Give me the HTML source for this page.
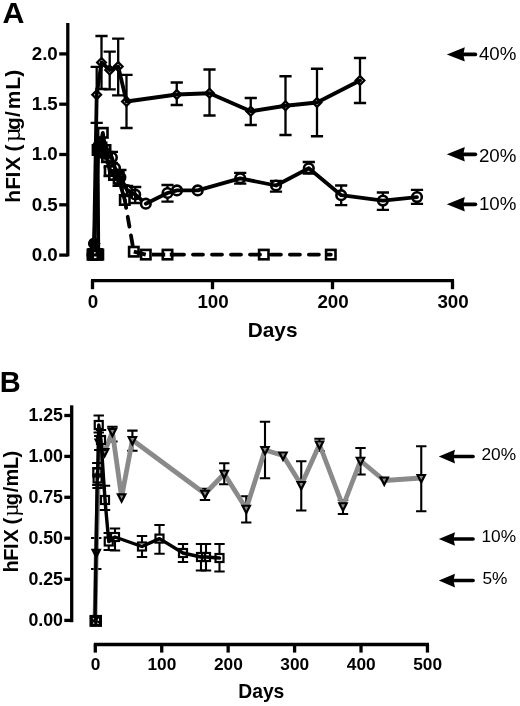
<!DOCTYPE html>
<html><head><meta charset="utf-8"><title>hFIX expression</title>
<style>
html,body{margin:0;padding:0;background:#fff;}
svg{display:block;font-family:"Liberation Sans",sans-serif;fill:#000;}
</style></head><body>
<svg width="520" height="706" viewBox="0 0 520 706">
<rect width="520" height="706" fill="#fff"/>
<line x1="67.8" y1="23" x2="67.8" y2="256.4" stroke="#000" stroke-width="3.3" />
<line x1="59.2" y1="53.900000000000006" x2="67.8" y2="53.900000000000006" stroke="#000" stroke-width="3.3" />
<text x="57.8" y="59.7" font-size="18.8" text-anchor="end" font-weight="bold" >2.0</text>
<line x1="59.2" y1="104.2" x2="67.8" y2="104.2" stroke="#000" stroke-width="3.3" />
<text x="57.8" y="110.0" font-size="18.8" text-anchor="end" font-weight="bold" >1.5</text>
<line x1="59.2" y1="154.5" x2="67.8" y2="154.5" stroke="#000" stroke-width="3.3" />
<text x="57.8" y="160.3" font-size="18.8" text-anchor="end" font-weight="bold" >1.0</text>
<line x1="59.2" y1="204.79999999999998" x2="67.8" y2="204.79999999999998" stroke="#000" stroke-width="3.3" />
<text x="57.8" y="210.6" font-size="18.8" text-anchor="end" font-weight="bold" >0.5</text>
<line x1="59.2" y1="255.1" x2="67.8" y2="255.1" stroke="#000" stroke-width="3.3" />
<text x="57.8" y="260.9" font-size="18.8" text-anchor="end" font-weight="bold" >0.0</text>
<line x1="91" y1="280.6" x2="454" y2="280.6" stroke="#000" stroke-width="3.3" />
<line x1="92.5" y1="280.6" x2="92.5" y2="289.2" stroke="#000" stroke-width="3.3" />
<text x="93.1" y="308.2" font-size="18.8" text-anchor="middle" font-weight="bold" >0</text>
<line x1="212.5" y1="280.6" x2="212.5" y2="289.2" stroke="#000" stroke-width="3.3" />
<text x="213.1" y="308.2" font-size="18.8" text-anchor="middle" font-weight="bold" >100</text>
<line x1="332.5" y1="280.6" x2="332.5" y2="289.2" stroke="#000" stroke-width="3.3" />
<text x="333.1" y="308.2" font-size="18.8" text-anchor="middle" font-weight="bold" >200</text>
<line x1="452.5" y1="280.6" x2="452.5" y2="289.2" stroke="#000" stroke-width="3.3" />
<text x="453.1" y="308.2" font-size="18.8" text-anchor="middle" font-weight="bold" >300</text>
<text x="272.6" y="337.4" font-size="20.8" text-anchor="middle" font-weight="bold" >Days</text>
<text x="2.5" y="23.4" font-size="30.4" text-anchor="start" font-weight="bold" >A</text>
<text transform="translate(19.6,0) rotate(-90)" x="-202.69 -189.73 -177.39 -170.81 -156.80 -151.56 -142.23 -130.04 -117.00 -109.26 -89.73 -76.63" y="0" font-size="21" font-weight="bold" text-anchor="start">hFIX (<tspan font-weight="normal" font-size="26.2" font-family="'Liberation Serif','DejaVu Serif',serif">µ</tspan>g/mL)</text>
<path d="M100.9 151.8H113.1M100.9 162H113.1M107 151.8V162" stroke="#000" stroke-width="2.3" fill="none"/>
<path d="M103.60000000000001 167.4H115.8M103.60000000000001 176H115.8M109.7 167.4V176" stroke="#000" stroke-width="2.3" fill="none"/>
<path d="M112.5 172H124.69999999999999M112.5 185.8H124.69999999999999M118.6 172V185.8" stroke="#000" stroke-width="2.3" fill="none"/>
<rect x="87.80" y="249.90" width="9.4" height="9.4" fill="#fff" stroke="none"/>
<rect x="93.60" y="249.90" width="9.4" height="9.4" fill="#fff" stroke="none"/>
<rect x="92.90" y="145.30" width="9.4" height="9.4" fill="#fff" stroke="none"/>
<rect x="95.30" y="142.30" width="9.4" height="9.4" fill="#fff" stroke="none"/>
<rect x="98.10" y="128.10" width="9.4" height="9.4" fill="#fff" stroke="none"/>
<rect x="100.80" y="145.30" width="9.4" height="9.4" fill="#fff" stroke="none"/>
<rect x="102.30" y="152.30" width="9.4" height="9.4" fill="#fff" stroke="none"/>
<rect x="105.00" y="166.30" width="9.4" height="9.4" fill="#fff" stroke="none"/>
<rect x="109.30" y="170.30" width="9.4" height="9.4" fill="#fff" stroke="none"/>
<rect x="113.90" y="174.00" width="9.4" height="9.4" fill="#fff" stroke="none"/>
<polyline points="92.5,254.6 98.3,254.6 97.6,150 100,147 102.8,132.8 105.5,150 107,157 109.7,171 114,175 118.6,178.7 124.8,200" fill="none" stroke="#000" stroke-width="3.8" stroke-linejoin="round" stroke-linecap="round"/>
<rect x="87.80" y="249.90" width="9.4" height="9.4" fill="none" stroke="#000" stroke-width="2.6"/>
<rect x="93.60" y="249.90" width="9.4" height="9.4" fill="none" stroke="#000" stroke-width="2.6"/>
<rect x="92.90" y="145.30" width="9.4" height="9.4" fill="none" stroke="#000" stroke-width="2.6"/>
<rect x="95.30" y="142.30" width="9.4" height="9.4" fill="none" stroke="#000" stroke-width="2.6"/>
<rect x="98.10" y="128.10" width="9.4" height="9.4" fill="none" stroke="#000" stroke-width="2.6"/>
<rect x="100.80" y="145.30" width="9.4" height="9.4" fill="none" stroke="#000" stroke-width="2.6"/>
<rect x="102.30" y="152.30" width="9.4" height="9.4" fill="none" stroke="#000" stroke-width="2.6"/>
<rect x="105.00" y="166.30" width="9.4" height="9.4" fill="none" stroke="#000" stroke-width="2.6"/>
<rect x="109.30" y="170.30" width="9.4" height="9.4" fill="none" stroke="#000" stroke-width="2.6"/>
<rect x="113.90" y="174.00" width="9.4" height="9.4" fill="none" stroke="#000" stroke-width="2.6"/>
<rect x="129.10" y="247.00" width="9.4" height="9.4" fill="#fff" stroke="none"/>
<rect x="141.10" y="249.90" width="9.4" height="9.4" fill="#fff" stroke="none"/>
<rect x="162.80" y="249.90" width="9.4" height="9.4" fill="#fff" stroke="none"/>
<rect x="259.10" y="249.90" width="9.4" height="9.4" fill="#fff" stroke="none"/>
<rect x="326.10" y="249.90" width="9.4" height="9.4" fill="#fff" stroke="none"/>
<line x1="124.8" y1="200" x2="133.8" y2="251.7" stroke="#000" stroke-width="3.8" stroke-linecap="round" stroke-dasharray="10 9" stroke-dashoffset="2"/>
<line x1="133.8" y1="251.7" x2="145.8" y2="254.6" stroke="#000" stroke-width="3.8" />
<line x1="152" y1="254.6" x2="165.2" y2="254.6" stroke="#000" stroke-width="3.8" />
<line x1="169.8" y1="254.6" x2="174" y2="254.6" stroke="#000" stroke-width="3.8" />
<line x1="167.5" y1="254.6" x2="263.8" y2="254.6" stroke="#000" stroke-width="3.8" stroke-linecap="round" stroke-dasharray="10 9" stroke-dashoffset="12.5"/>
<line x1="263.8" y1="254.6" x2="330.8" y2="254.6" stroke="#000" stroke-width="3.8" stroke-linecap="round" stroke-dasharray="10 9" stroke-dashoffset="11.9"/>
<rect x="120.10" y="195.30" width="9.4" height="9.4" fill="none" stroke="#000" stroke-width="2.6"/>
<rect x="129.10" y="247.00" width="9.4" height="9.4" fill="none" stroke="#000" stroke-width="2.6"/>
<rect x="141.10" y="249.90" width="9.4" height="9.4" fill="none" stroke="#000" stroke-width="2.6"/>
<rect x="162.80" y="249.90" width="9.4" height="9.4" fill="none" stroke="#000" stroke-width="2.6"/>
<rect x="259.10" y="249.90" width="9.4" height="9.4" fill="none" stroke="#000" stroke-width="2.6"/>
<rect x="326.10" y="249.90" width="9.4" height="9.4" fill="none" stroke="#000" stroke-width="2.6"/>
<path d="M105.80000000000001 151.8H118.0M105.80000000000001 163H118.0M111.9 151.8V163" stroke="#000" stroke-width="2.3" fill="none"/>
<path d="M114.30000000000001 170H126.5M114.30000000000001 185H126.5M120.4 170V185" stroke="#000" stroke-width="2.3" fill="none"/>
<path d="M120.9 185.8H133.1M120.9 196H133.1M127 185.8V196" stroke="#000" stroke-width="2.3" fill="none"/>
<path d="M129.1 187H141.29999999999998M129.1 203H141.29999999999998M135.2 187V203" stroke="#000" stroke-width="2.3" fill="none"/>
<polyline points="92.5,254.9 94.1,243.5 98.4,146 100.5,143.5 103,150 106,154 111.9,157.5 115,168 120.4,177.3 127,190 135.2,194.5 145.8,203.7" fill="none" stroke="#000" stroke-width="3.8" stroke-linejoin="round" stroke-linecap="round"/>
<circle cx="92.5" cy="254.9" r="4.8" fill="none" stroke="#000" stroke-width="2.6"/>
<circle cx="94.1" cy="243.5" r="4.8" fill="none" stroke="#000" stroke-width="2.6"/>
<circle cx="98.4" cy="146" r="4.8" fill="none" stroke="#000" stroke-width="2.6"/>
<circle cx="100.5" cy="143.5" r="4.8" fill="none" stroke="#000" stroke-width="2.6"/>
<circle cx="103" cy="150" r="4.8" fill="none" stroke="#000" stroke-width="2.6"/>
<circle cx="106" cy="154" r="4.8" fill="none" stroke="#000" stroke-width="2.6"/>
<circle cx="111.9" cy="157.5" r="4.8" fill="none" stroke="#000" stroke-width="2.6"/>
<circle cx="115" cy="168" r="4.8" fill="none" stroke="#000" stroke-width="2.6"/>
<circle cx="120.4" cy="177.3" r="4.8" fill="none" stroke="#000" stroke-width="2.6"/>
<circle cx="127" cy="190" r="4.8" fill="none" stroke="#000" stroke-width="2.6"/>
<circle cx="135.2" cy="194.5" r="4.8" fill="none" stroke="#000" stroke-width="2.6"/>
<path d="M161.4 185H173.6M161.4 201.7H173.6M167.5 185V201.7" stroke="#000" stroke-width="2.3" fill="none"/>
<path d="M234.1 172.9H246.29999999999998M234.1 183.7H246.29999999999998M240.2 172.9V183.7" stroke="#000" stroke-width="2.3" fill="none"/>
<path d="M269.9 181H282.1M269.9 191.7H282.1M276 181V191.7" stroke="#000" stroke-width="2.3" fill="none"/>
<path d="M302.7 162H314.90000000000003M302.7 173.7H314.90000000000003M308.8 162V173.7" stroke="#000" stroke-width="2.3" fill="none"/>
<path d="M335.09999999999997 185.5H347.3M335.09999999999997 205.2H347.3M341.2 185.5V205.2" stroke="#000" stroke-width="2.3" fill="none"/>
<path d="M376.79999999999995 192.5H389.0M376.79999999999995 209.8H389.0M382.9 192.5V209.8" stroke="#000" stroke-width="2.3" fill="none"/>
<path d="M410.9 189.8H423.1M410.9 203.8H423.1M417 189.8V203.8" stroke="#000" stroke-width="2.3" fill="none"/>
<circle cx="145.8" cy="203.7" r="4.8" fill="#fff" stroke="none"/>
<circle cx="167.5" cy="193" r="4.8" fill="#fff" stroke="none"/>
<circle cx="177" cy="190.4" r="4.8" fill="#fff" stroke="none"/>
<circle cx="197.7" cy="190.4" r="4.8" fill="#fff" stroke="none"/>
<circle cx="240.2" cy="178.3" r="4.8" fill="#fff" stroke="none"/>
<circle cx="276" cy="185.5" r="4.8" fill="#fff" stroke="none"/>
<circle cx="308.8" cy="168.3" r="4.8" fill="#fff" stroke="none"/>
<circle cx="341.2" cy="195.2" r="4.8" fill="#fff" stroke="none"/>
<circle cx="382.9" cy="200.6" r="4.8" fill="#fff" stroke="none"/>
<circle cx="417" cy="197.1" r="4.8" fill="#fff" stroke="none"/>
<polyline points="145.8,203.7 167.5,193 177,190.4 197.7,190.4 240.2,178.3 276,185.5 308.8,168.3 341.2,195.2 382.9,200.6 417,197.1" fill="none" stroke="#000" stroke-width="3.8" stroke-linejoin="round" stroke-linecap="round"/>
<circle cx="145.8" cy="203.7" r="4.8" fill="none" stroke="#000" stroke-width="2.6"/>
<circle cx="167.5" cy="193" r="4.8" fill="none" stroke="#000" stroke-width="2.6"/>
<circle cx="177" cy="190.4" r="4.8" fill="none" stroke="#000" stroke-width="2.6"/>
<circle cx="197.7" cy="190.4" r="4.8" fill="none" stroke="#000" stroke-width="2.6"/>
<circle cx="240.2" cy="178.3" r="4.8" fill="none" stroke="#000" stroke-width="2.6"/>
<circle cx="276" cy="185.5" r="4.8" fill="none" stroke="#000" stroke-width="2.6"/>
<circle cx="308.8" cy="168.3" r="4.8" fill="none" stroke="#000" stroke-width="2.6"/>
<circle cx="341.2" cy="195.2" r="4.8" fill="none" stroke="#000" stroke-width="2.6"/>
<circle cx="382.9" cy="200.6" r="4.8" fill="none" stroke="#000" stroke-width="2.6"/>
<circle cx="417" cy="197.1" r="4.8" fill="none" stroke="#000" stroke-width="2.6"/>
<rect x="94.5" y="141.5" width="13" height="17" fill="#000"/>
<path d="M90.60000000000001 66.8H102.8M90.60000000000001 122.8H102.8M96.7 66.8V122.8" stroke="#000" stroke-width="2.3" fill="none"/>
<path d="M95.4 36H107.6M95.4 89H107.6M101.5 36V89" stroke="#000" stroke-width="2.3" fill="none"/>
<path d="M103.60000000000001 51.6H115.8M103.60000000000001 89.4H115.8M109.7 51.6V89.4" stroke="#000" stroke-width="2.3" fill="none"/>
<path d="M112.10000000000001 38.7H124.3M112.10000000000001 95.4H124.3M118.2 38.7V95.4" stroke="#000" stroke-width="2.3" fill="none"/>
<path d="M120.4 74.9H132.6M120.4 128H132.6M126.5 74.9V128" stroke="#000" stroke-width="2.3" fill="none"/>
<path d="M170.65 82.5H182.85M170.65 105H182.85M176.75 82.5V105" stroke="#000" stroke-width="2.3" fill="none"/>
<path d="M203.4 69.5H215.6M203.4 115.5H215.6M209.5 69.5V115.5" stroke="#000" stroke-width="2.3" fill="none"/>
<path d="M244.65 98H256.85M244.65 125H256.85M250.75 98V125" stroke="#000" stroke-width="2.3" fill="none"/>
<path d="M279.4 76.25H291.6M279.4 135H291.6M285.5 76.25V135" stroke="#000" stroke-width="2.3" fill="none"/>
<path d="M310.9 68.75H323.1M310.9 136.25H323.1M317 68.75V136.25" stroke="#000" stroke-width="2.3" fill="none"/>
<path d="M353.9 58H366.1M353.9 103H366.1M360 58V103" stroke="#000" stroke-width="2.3" fill="none"/>
<path d="M92.5 250.5L96.9 254.9L92.5 259.3L88.1 254.9Z" fill="#fff" stroke="none"/>
<path d="M94.1 238.6L98.5 243L94.1 247.4L89.69999999999999 243Z" fill="#fff" stroke="none"/>
<path d="M96.7 90.3L101.10000000000001 94.7L96.7 99.10000000000001L92.3 94.7Z" fill="#fff" stroke="none"/>
<path d="M101.5 58.1L105.9 62.5L101.5 66.9L97.1 62.5Z" fill="#fff" stroke="none"/>
<path d="M109.7 65.6L114.10000000000001 70L109.7 74.4L105.3 70Z" fill="#fff" stroke="none"/>
<path d="M118.2 62.1L122.60000000000001 66.5L118.2 70.9L113.8 66.5Z" fill="#fff" stroke="none"/>
<path d="M126.5 97.1L130.9 101.5L126.5 105.9L122.1 101.5Z" fill="#fff" stroke="none"/>
<path d="M176.75 90.1L181.15 94.5L176.75 98.9L172.35 94.5Z" fill="#fff" stroke="none"/>
<path d="M209.5 88.85L213.9 93.25L209.5 97.65L205.1 93.25Z" fill="#fff" stroke="none"/>
<path d="M250.75 106.85L255.15 111.25L250.75 115.65L246.35 111.25Z" fill="#fff" stroke="none"/>
<path d="M285.5 101.35L289.9 105.75L285.5 110.15L281.1 105.75Z" fill="#fff" stroke="none"/>
<path d="M317 98.1L321.4 102.5L317 106.9L312.6 102.5Z" fill="#fff" stroke="none"/>
<path d="M360 76.1L364.4 80.5L360 84.9L355.6 80.5Z" fill="#fff" stroke="none"/>
<polyline points="92.5,254.9 94.1,243 96.7,94.7 101.5,62.5 109.7,70 118.2,66.5 126.5,101.5 176.75,94.5 209.5,93.25 250.75,111.25 285.5,105.75 317,102.5 360,80.5" fill="none" stroke="#000" stroke-width="3.8" stroke-linejoin="round" stroke-linecap="round"/>
<path d="M92.5 250.5L96.9 254.9L92.5 259.3L88.1 254.9Z" fill="none" stroke="#000" stroke-width="2.2"/>
<path d="M94.1 238.6L98.5 243L94.1 247.4L89.69999999999999 243Z" fill="none" stroke="#000" stroke-width="2.2"/>
<path d="M96.7 90.3L101.10000000000001 94.7L96.7 99.10000000000001L92.3 94.7Z" fill="none" stroke="#000" stroke-width="2.2"/>
<path d="M101.5 58.1L105.9 62.5L101.5 66.9L97.1 62.5Z" fill="none" stroke="#000" stroke-width="2.2"/>
<path d="M109.7 65.6L114.10000000000001 70L109.7 74.4L105.3 70Z" fill="none" stroke="#000" stroke-width="2.2"/>
<path d="M118.2 62.1L122.60000000000001 66.5L118.2 70.9L113.8 66.5Z" fill="none" stroke="#000" stroke-width="2.2"/>
<path d="M126.5 97.1L130.9 101.5L126.5 105.9L122.1 101.5Z" fill="none" stroke="#000" stroke-width="2.2"/>
<path d="M176.75 90.1L181.15 94.5L176.75 98.9L172.35 94.5Z" fill="none" stroke="#000" stroke-width="2.2"/>
<path d="M209.5 88.85L213.9 93.25L209.5 97.65L205.1 93.25Z" fill="none" stroke="#000" stroke-width="2.2"/>
<path d="M250.75 106.85L255.15 111.25L250.75 115.65L246.35 111.25Z" fill="none" stroke="#000" stroke-width="2.2"/>
<path d="M285.5 101.35L289.9 105.75L285.5 110.15L281.1 105.75Z" fill="none" stroke="#000" stroke-width="2.2"/>
<path d="M317 98.1L321.4 102.5L317 106.9L312.6 102.5Z" fill="none" stroke="#000" stroke-width="2.2"/>
<path d="M360 76.1L364.4 80.5L360 84.9L355.6 80.5Z" fill="none" stroke="#000" stroke-width="2.2"/>
<rect x="87.3" y="248" width="16" height="12.8" fill="#000"/>
<path d="M94.1 237.5L100.6 243.5L96 249H91L87.8 243.5Z" fill="#000"/>
<rect x="94" y="252.2" width="1.6" height="1.2" fill="#fff"/><rect x="94" y="256.5" width="2.4" height="1.6" fill="#fff"/>
<path d="M446.8 54.4L464.8 47.199999999999996L463.3 54.4L464.8 61.6Z" fill="#000"/>
<line x1="460.8" y1="54.4" x2="475.3" y2="54.4" stroke="#000" stroke-width="3.8" stroke-linecap="round"/>
<text x="516.3" y="59.5" font-size="18.7" text-anchor="end" font-weight="normal" >40%</text>
<path d="M446.8 154.3L464.8 147.10000000000002L463.3 154.3L464.8 161.5Z" fill="#000"/>
<line x1="460.8" y1="154.3" x2="475.3" y2="154.3" stroke="#000" stroke-width="3.8" stroke-linecap="round"/>
<text x="516.3" y="161.9" font-size="18.7" text-anchor="end" font-weight="normal" >20%</text>
<path d="M446.8 204.3L464.8 197.10000000000002L463.3 204.3L464.8 211.5Z" fill="#000"/>
<line x1="460.8" y1="204.3" x2="475.3" y2="204.3" stroke="#000" stroke-width="3.8" stroke-linecap="round"/>
<text x="516.3" y="209.70000000000002" font-size="18.7" text-anchor="end" font-weight="normal" >10%</text>
<line x1="71.7" y1="405.3" x2="71.7" y2="622.2" stroke="#000" stroke-width="3.3" />
<line x1="64.3" y1="415.5" x2="71.7" y2="415.5" stroke="#000" stroke-width="3.3" />
<text x="63" y="421.3" font-size="17.8" text-anchor="end" font-weight="bold" >1.25</text>
<line x1="64.3" y1="456.4" x2="71.7" y2="456.4" stroke="#000" stroke-width="3.3" />
<text x="63" y="462.2" font-size="17.8" text-anchor="end" font-weight="bold" >1.00</text>
<line x1="64.3" y1="497.3" x2="71.7" y2="497.3" stroke="#000" stroke-width="3.3" />
<text x="63" y="503.1" font-size="17.8" text-anchor="end" font-weight="bold" >0.75</text>
<line x1="64.3" y1="538.2" x2="71.7" y2="538.2" stroke="#000" stroke-width="3.3" />
<text x="63" y="544.0" font-size="17.8" text-anchor="end" font-weight="bold" >0.50</text>
<line x1="64.3" y1="579.3" x2="71.7" y2="579.3" stroke="#000" stroke-width="3.3" />
<text x="63" y="585.0999999999999" font-size="17.8" text-anchor="end" font-weight="bold" >0.25</text>
<line x1="64.3" y1="620.4" x2="71.7" y2="620.4" stroke="#000" stroke-width="3.3" />
<text x="63" y="626.1999999999999" font-size="17.8" text-anchor="end" font-weight="bold" >0.00</text>
<line x1="93.8" y1="644.5" x2="429" y2="644.5" stroke="#000" stroke-width="3.3" />
<line x1="95.3" y1="644.5" x2="95.3" y2="652.6" stroke="#000" stroke-width="3.3" />
<text x="95.5" y="670.0" font-size="17.3" text-anchor="middle" font-weight="bold" >0</text>
<line x1="161.73000000000002" y1="644.5" x2="161.73000000000002" y2="652.6" stroke="#000" stroke-width="3.3" />
<text x="161.93" y="670.0" font-size="17.3" text-anchor="middle" font-weight="bold" >100</text>
<line x1="228.16000000000003" y1="644.5" x2="228.16000000000003" y2="652.6" stroke="#000" stroke-width="3.3" />
<text x="228.36" y="670.0" font-size="17.3" text-anchor="middle" font-weight="bold" >200</text>
<line x1="294.59000000000003" y1="644.5" x2="294.59000000000003" y2="652.6" stroke="#000" stroke-width="3.3" />
<text x="294.79" y="670.0" font-size="17.3" text-anchor="middle" font-weight="bold" >300</text>
<line x1="361.02000000000004" y1="644.5" x2="361.02000000000004" y2="652.6" stroke="#000" stroke-width="3.3" />
<text x="361.22" y="670.0" font-size="17.3" text-anchor="middle" font-weight="bold" >400</text>
<line x1="427.45000000000005" y1="644.5" x2="427.45000000000005" y2="652.6" stroke="#000" stroke-width="3.3" />
<text x="427.65000000000003" y="670.0" font-size="17.3" text-anchor="middle" font-weight="bold" >500</text>
<text x="261.3" y="698" font-size="19.3" text-anchor="middle" font-weight="bold" >Days</text>
<text x="-0.2" y="392" font-size="29" text-anchor="start" font-weight="bold" >B</text>
<text transform="translate(17.5,0) rotate(-90)" x="-572.52 -560.76 -548.92 -542.60 -529.26 -524.40 -516.50 -505.20 -492.30 -486.40 -468.96 -457.50" y="0" font-size="20" font-weight="bold" text-anchor="start">hFIX (<tspan font-weight="normal" font-size="22.4" font-family="'Liberation Serif','DejaVu Serif',serif">µ</tspan>g/mL)</text>
<path d="M91.05 538H101.45M91.05 569H101.45M96.25 538V569" stroke="#000" stroke-width="2.1" fill="none"/>
<path d="M94.1 436H104.5M94.1 450H104.5M99.3 436V450" stroke="#000" stroke-width="2.1" fill="none"/>
<path d="M107.2 426.8H117.60000000000001M107.2 441.5H117.60000000000001M112.4 426.8V441.5" stroke="#000" stroke-width="2.1" fill="none"/>
<path d="M127.2 430.6H137.6M127.2 450.8H137.6M132.4 430.6V450.8" stroke="#000" stroke-width="2.1" fill="none"/>
<path d="M199.8 488.75H210.2M199.8 500H210.2M205 488.75V500" stroke="#000" stroke-width="2.1" fill="none"/>
<path d="M219.05 463.25H229.45M219.05 484.25H229.45M224.25 463.25V484.25" stroke="#000" stroke-width="2.1" fill="none"/>
<path d="M241.05 496.25H251.45M241.05 522.5H251.45M246.25 496.25V522.5" stroke="#000" stroke-width="2.1" fill="none"/>
<path d="M259.8 421.75H270.2M259.8 478.25H270.2M265 421.75V478.25" stroke="#000" stroke-width="2.1" fill="none"/>
<path d="M296.05 461.25H306.45M296.05 510.5H306.45M301.25 461.25V510.5" stroke="#000" stroke-width="2.1" fill="none"/>
<path d="M314.3 438.75H324.7M314.3 451H324.7M319.5 438.75V451" stroke="#000" stroke-width="2.1" fill="none"/>
<path d="M337.8 500H348.2M337.8 514H348.2M343 500V514" stroke="#000" stroke-width="2.1" fill="none"/>
<path d="M355.3 448H365.7M355.3 474.5H365.7M360.5 448V474.5" stroke="#000" stroke-width="2.1" fill="none"/>
<path d="M416.05 446.25H426.45M416.05 511.25H426.45M421.25 446.25V511.25" stroke="#000" stroke-width="2.1" fill="none"/>
<path d="M91.3 617.5H98.7L95 624.8Z" fill="#fff" stroke="none"/>
<path d="M92.55 549.8H99.95L96.25 557.0999999999999Z" fill="#fff" stroke="none"/>
<path d="M95.6 439.5H103.0L99.3 446.8Z" fill="#fff" stroke="none"/>
<path d="M100.89999999999999 449.0H108.3L104.6 456.3Z" fill="#fff" stroke="none"/>
<path d="M108.7 428.8H116.10000000000001L112.4 436.1Z" fill="#fff" stroke="none"/>
<path d="M117.89999999999999 494.3H125.3L121.6 501.6Z" fill="#fff" stroke="none"/>
<path d="M128.70000000000002 437.0H136.1L132.4 444.3Z" fill="#fff" stroke="none"/>
<path d="M201.3 490.75H208.7L205 498.05Z" fill="#fff" stroke="none"/>
<path d="M220.55 470.75H227.95L224.25 478.05Z" fill="#fff" stroke="none"/>
<path d="M242.55 505.75H249.95L246.25 513.05Z" fill="#fff" stroke="none"/>
<path d="M261.3 447.0H268.7L265 454.3Z" fill="#fff" stroke="none"/>
<path d="M279.3 452.5H286.7L283 459.8Z" fill="#fff" stroke="none"/>
<path d="M297.55 482.0H304.95L301.25 489.3Z" fill="#fff" stroke="none"/>
<path d="M315.8 441.5H323.2L319.5 448.8Z" fill="#fff" stroke="none"/>
<path d="M339.3 503.25H346.7L343 510.55Z" fill="#fff" stroke="none"/>
<path d="M356.8 457.75H364.2L360.5 465.05Z" fill="#fff" stroke="none"/>
<path d="M380.55 477.5H387.95L384.25 484.8Z" fill="#fff" stroke="none"/>
<path d="M417.55 475.0H424.95L421.25 482.3Z" fill="#fff" stroke="none"/>
<polyline points="95,620.5 96.25,552.8 99.3,442.5 104.6,452 112.4,431.8 121.6,497.3 132.4,440 205,493.75 224.25,473.75 246.25,508.75 265,450 283,455.5 301.25,485 319.5,444.5 343,506.25 360.5,460.75 384.25,480.5 421.25,478" fill="none" stroke="#8a8a8a" stroke-width="4.8" stroke-linejoin="round" stroke-linecap="round"/>
<path d="M91.3 617.5H98.7L95 624.8Z" fill="none" stroke="#000" stroke-width="2.2" stroke-linejoin="miter"/>
<path d="M92.55 549.8H99.95L96.25 557.0999999999999Z" fill="none" stroke="#000" stroke-width="2.2" stroke-linejoin="miter"/>
<path d="M95.6 439.5H103.0L99.3 446.8Z" fill="none" stroke="#000" stroke-width="2.2" stroke-linejoin="miter"/>
<path d="M100.89999999999999 449.0H108.3L104.6 456.3Z" fill="none" stroke="#000" stroke-width="2.2" stroke-linejoin="miter"/>
<path d="M108.7 428.8H116.10000000000001L112.4 436.1Z" fill="none" stroke="#000" stroke-width="2.2" stroke-linejoin="miter"/>
<path d="M117.89999999999999 494.3H125.3L121.6 501.6Z" fill="none" stroke="#000" stroke-width="2.2" stroke-linejoin="miter"/>
<path d="M128.70000000000002 437.0H136.1L132.4 444.3Z" fill="none" stroke="#000" stroke-width="2.2" stroke-linejoin="miter"/>
<path d="M201.3 490.75H208.7L205 498.05Z" fill="none" stroke="#000" stroke-width="2.2" stroke-linejoin="miter"/>
<path d="M220.55 470.75H227.95L224.25 478.05Z" fill="none" stroke="#000" stroke-width="2.2" stroke-linejoin="miter"/>
<path d="M242.55 505.75H249.95L246.25 513.05Z" fill="none" stroke="#000" stroke-width="2.2" stroke-linejoin="miter"/>
<path d="M261.3 447.0H268.7L265 454.3Z" fill="none" stroke="#000" stroke-width="2.2" stroke-linejoin="miter"/>
<path d="M279.3 452.5H286.7L283 459.8Z" fill="none" stroke="#000" stroke-width="2.2" stroke-linejoin="miter"/>
<path d="M297.55 482.0H304.95L301.25 489.3Z" fill="none" stroke="#000" stroke-width="2.2" stroke-linejoin="miter"/>
<path d="M315.8 441.5H323.2L319.5 448.8Z" fill="none" stroke="#000" stroke-width="2.2" stroke-linejoin="miter"/>
<path d="M339.3 503.25H346.7L343 510.55Z" fill="none" stroke="#000" stroke-width="2.2" stroke-linejoin="miter"/>
<path d="M356.8 457.75H364.2L360.5 465.05Z" fill="none" stroke="#000" stroke-width="2.2" stroke-linejoin="miter"/>
<path d="M380.55 477.5H387.95L384.25 484.8Z" fill="none" stroke="#000" stroke-width="2.2" stroke-linejoin="miter"/>
<path d="M417.55 475.0H424.95L421.25 482.3Z" fill="none" stroke="#000" stroke-width="2.2" stroke-linejoin="miter"/>
<path d="M92.1 463H102.5M92.1 485H102.5M97.3 463V485" stroke="#000" stroke-width="2.1" fill="none"/>
<path d="M92.39999999999999 468H102.8M92.39999999999999 488H102.8M97.6 468V488" stroke="#000" stroke-width="2.1" fill="none"/>
<path d="M93.55 415.5H103.95M93.55 432.5H103.95M98.75 415.5V432.5" stroke="#000" stroke-width="2.1" fill="none"/>
<path d="M95.8 430H106.2M95.8 450H106.2M101 430V450" stroke="#000" stroke-width="2.1" fill="none"/>
<path d="M99.8 485.75H110.2M99.8 510H110.2M105 485.75V510" stroke="#000" stroke-width="2.1" fill="none"/>
<path d="M103.55 533H113.95M103.55 550H113.95M108.75 533V550" stroke="#000" stroke-width="2.1" fill="none"/>
<path d="M109.8 528.5H120.2M109.8 550.5H120.2M115 528.5V550.5" stroke="#000" stroke-width="2.1" fill="none"/>
<path d="M136.8 536H147.2M136.8 557H147.2M142 536V557" stroke="#000" stroke-width="2.1" fill="none"/>
<path d="M154.3 525H164.7M154.3 553.75H164.7M159.5 525V553.75" stroke="#000" stroke-width="2.1" fill="none"/>
<path d="M177.8 544H188.2M177.8 562H188.2M183 544V562" stroke="#000" stroke-width="2.1" fill="none"/>
<path d="M195.8 544H206.2M195.8 570.5H206.2M201 544V570.5" stroke="#000" stroke-width="2.1" fill="none"/>
<path d="M200.8 544H211.2M200.8 570.5H211.2M206 544V570.5" stroke="#000" stroke-width="2.1" fill="none"/>
<path d="M214.3 544H224.7M214.3 571.5H224.7M219.5 544V571.5" stroke="#000" stroke-width="2.1" fill="none"/>
<rect x="91.00" y="616.50" width="8.0" height="8.0" fill="#fff" stroke="none"/>
<rect x="93.30" y="468.50" width="8.0" height="8.0" fill="#fff" stroke="none"/>
<rect x="93.60" y="474.50" width="8.0" height="8.0" fill="#fff" stroke="none"/>
<rect x="94.75" y="421.00" width="8.0" height="8.0" fill="#fff" stroke="none"/>
<rect x="97.00" y="436.00" width="8.0" height="8.0" fill="#fff" stroke="none"/>
<rect x="101.00" y="496.00" width="8.0" height="8.0" fill="#fff" stroke="none"/>
<rect x="104.75" y="537.50" width="8.0" height="8.0" fill="#fff" stroke="none"/>
<rect x="111.00" y="533.00" width="8.0" height="8.0" fill="#fff" stroke="none"/>
<rect x="138.00" y="542.50" width="8.0" height="8.0" fill="#fff" stroke="none"/>
<rect x="155.50" y="534.60" width="8.0" height="8.0" fill="#fff" stroke="none"/>
<rect x="179.00" y="549.00" width="8.0" height="8.0" fill="#fff" stroke="none"/>
<rect x="197.00" y="553.00" width="8.0" height="8.0" fill="#fff" stroke="none"/>
<rect x="202.00" y="553.00" width="8.0" height="8.0" fill="#fff" stroke="none"/>
<rect x="215.50" y="554.00" width="8.0" height="8.0" fill="#fff" stroke="none"/>
<polyline points="95,620.5 97.3,472.5 97.6,478.5 98.75,425 101,440 105,500 108.75,541.5 115,537 142,546.5 159.5,538.6 183,553 201,557 206,557 219.5,558" fill="none" stroke="#000" stroke-width="3.4" stroke-linejoin="round" stroke-linecap="round"/>
<rect x="91.00" y="616.50" width="8.0" height="8.0" fill="none" stroke="#000" stroke-width="2.2"/>
<rect x="93.30" y="468.50" width="8.0" height="8.0" fill="none" stroke="#000" stroke-width="2.2"/>
<rect x="93.60" y="474.50" width="8.0" height="8.0" fill="none" stroke="#000" stroke-width="2.2"/>
<rect x="94.75" y="421.00" width="8.0" height="8.0" fill="none" stroke="#000" stroke-width="2.2"/>
<rect x="97.00" y="436.00" width="8.0" height="8.0" fill="none" stroke="#000" stroke-width="2.2"/>
<rect x="101.00" y="496.00" width="8.0" height="8.0" fill="none" stroke="#000" stroke-width="2.2"/>
<rect x="104.75" y="537.50" width="8.0" height="8.0" fill="none" stroke="#000" stroke-width="2.2"/>
<rect x="111.00" y="533.00" width="8.0" height="8.0" fill="none" stroke="#000" stroke-width="2.2"/>
<rect x="138.00" y="542.50" width="8.0" height="8.0" fill="none" stroke="#000" stroke-width="2.2"/>
<rect x="155.50" y="534.60" width="8.0" height="8.0" fill="none" stroke="#000" stroke-width="2.2"/>
<rect x="179.00" y="549.00" width="8.0" height="8.0" fill="none" stroke="#000" stroke-width="2.2"/>
<rect x="197.00" y="553.00" width="8.0" height="8.0" fill="none" stroke="#000" stroke-width="2.2"/>
<rect x="202.00" y="553.00" width="8.0" height="8.0" fill="none" stroke="#000" stroke-width="2.2"/>
<rect x="215.50" y="554.00" width="8.0" height="8.0" fill="none" stroke="#000" stroke-width="2.2"/>
<rect x="89.5" y="614.9" width="12.5" height="12" fill="#000"/>
<path d="M92.6 618.2h1.6l-0.8 1.6zM97.4 620.5l1.3 -2.4l0.5 2.6zM92.7 623.6l1.2 -1.5l0.6 1.6zM97.6 622.3l1.4 1.6h-1.6z" fill="#fff"/>
<path d="M438.8 456.6L455.0 449.8L453.5 456.6L455.0 463.40000000000003Z" fill="#000"/>
<line x1="451.0" y1="456.6" x2="473.1" y2="456.6" stroke="#000" stroke-width="3.5" stroke-linecap="round"/>
<text x="516" y="460.1" font-size="17.3" text-anchor="end" font-weight="normal" >20%</text>
<path d="M438.8 539.0L455.0 532.2L453.5 539.0L455.0 545.8Z" fill="#000"/>
<line x1="451.0" y1="539.0" x2="473.1" y2="539.0" stroke="#000" stroke-width="3.5" stroke-linecap="round"/>
<text x="516" y="542.2" font-size="17.3" text-anchor="end" font-weight="normal" >10%</text>
<path d="M438.8 580.6L455.0 573.8000000000001L453.5 580.6L455.0 587.4Z" fill="#000"/>
<line x1="451.0" y1="580.6" x2="473.1" y2="580.6" stroke="#000" stroke-width="3.5" stroke-linecap="round"/>
<text x="482.5" y="583.8" font-size="17.3" text-anchor="start" font-weight="normal" >5%</text>
</svg>
</body></html>
